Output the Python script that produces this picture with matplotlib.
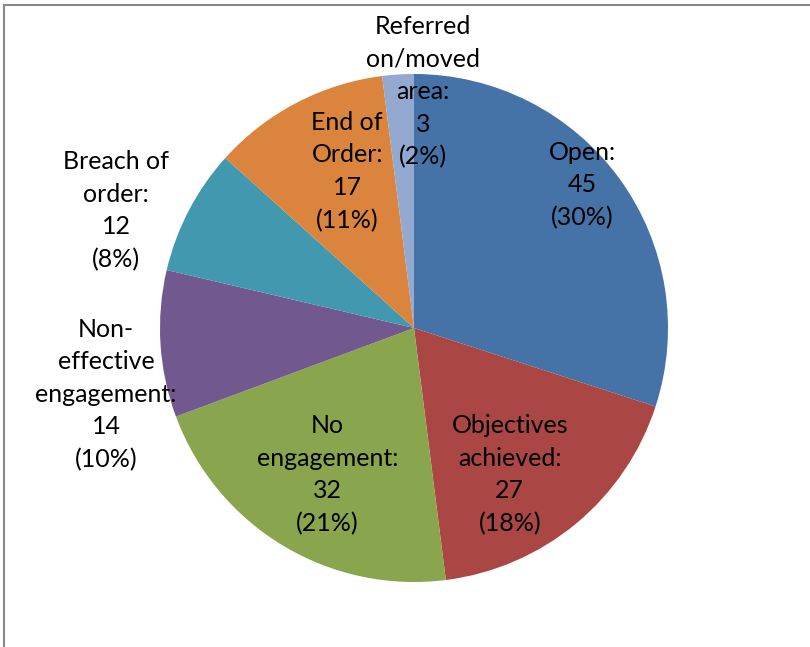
import matplotlib.pyplot as plt
import numpy as np
from matplotlib.patches import Rectangle

categories = ['Open', 'Objectives\nachieved', 'No\nengagement', 'Non-\neffective\nengagement',
              'Breach of\norder', 'End of\nOrder', 'Referred\non/moved\narea']
values = [45, 27, 32, 14, 12, 17, 3]
percent_labels = ['30%', '18%', '21%', '10%', '8%', '11%', '2%']
colors = ['#4572A7', '#AA4643', '#89A54E', '#71588F', '#4198AF', '#DB843D', '#93A9CF']

# label placement (angle in degrees, distance in radii)
label_angle = [40.4, -56.9, -120.6, -167.8, 158.5, 113.1, 87.8]
label_dist = [0.87, 0.69, 0.67, 1.24, 1.26, 0.67, 0.93]

W, H = 810, 647
cx, cy, R = 414, 328, 254

fig = plt.figure(figsize=(W / 100, H / 100), dpi=100)
ax = fig.add_axes([0, 0, 1, 1])
ax.pie(values, colors=colors, startangle=90, counterclock=False, radius=1,
       wedgeprops=dict(linewidth=0))
ax.set_xlim(-cx / R, (W - cx) / R)
ax.set_ylim(-(H - cy) / R, cy / R)
ax.set_aspect('equal')
ax.axis('off')

for cat, v, p, a, d in zip(categories, values, percent_labels, label_angle, label_dist):
    t = np.deg2rad(a)
    ax.text(d * np.cos(t), d * np.sin(t), f'{cat}:\n{v}\n({p})',
            ha='center', va='center', fontsize=18, family=['Lato', 'DejaVu Sans'],
            linespacing=1.5, color='black')

fig.patches.append(Rectangle((4 / W, -0.01), 1.05, 1 - 5 / H + 0.01, transform=fig.transFigure,
                             fill=False, edgecolor='#888888', linewidth=1.5))

fig.savefig('out.png', dpi=100)
